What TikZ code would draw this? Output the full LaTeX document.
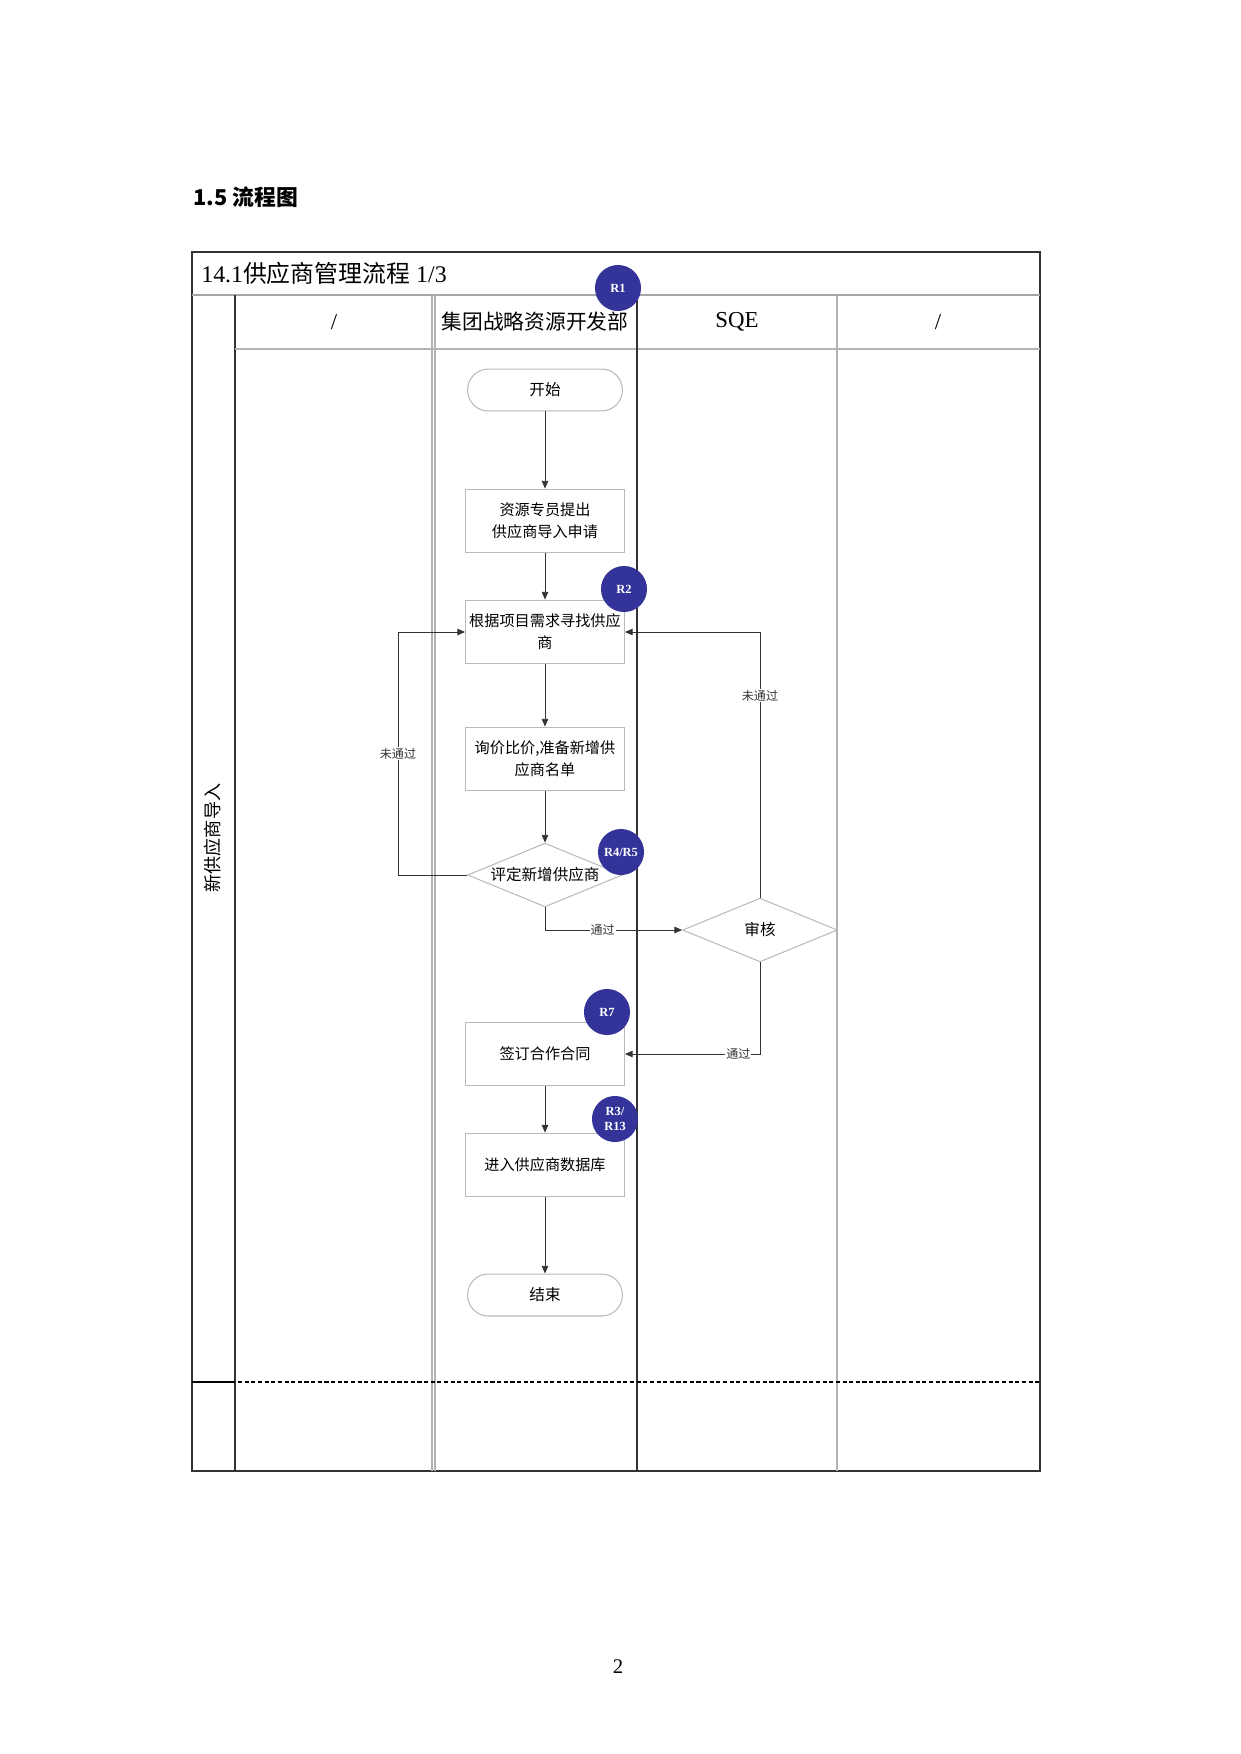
\documentclass[tikz,border=0pt]{standalone}
\usepackage{fontspec}
\setmainfont{Liberation Serif}
\newfontfamily\cjk{Noto Sans CJK SC}
\usetikzlibrary{shapes.geometric}
\usetikzlibrary{arrows.meta}
\definecolor{badgeblue}{HTML}{333399}

\begin{document}
\begin{tikzpicture}[x=0.1693mm, y=-0.1693mm,
  >={Triangle[length=1.3mm, width=1.1mm]},
  lane/.style={gray!60, line width=0.5pt},
  flow/.style={->, gray!40!black, line width=0.4pt},
  proc/.style={draw=gray!55, line width=0.5pt, inner xsep=0.5mm, text width=25.9mm,
    minimum height=10.8mm, align=center, font=\cjk\fontsize{7.3}{10.5}\selectfont},
  term/.style={draw=gray!55, line width=0.5pt, rounded corners=3.5mm, minimum width=26.2mm,
    minimum height=7.1mm, font=\cjk\fontsize{7.5}{10}\selectfont},
  decide/.style={draw=gray!55, line width=0.5pt, shape=diamond, shape aspect=2.4, inner sep=0pt,
    minimum width=26.2mm, minimum height=10.8mm, font=\cjk\fontsize{7.5}{10}\selectfont},
  badge/.style={circle, fill=badgeblue, minimum size=7.8mm, inner sep=0pt, align=center,
    text=white, font=\bfseries\fontsize{6}{7}\selectfont},
  tag/.style={fill=white, inner sep=0.5pt, font=\cjk\fontsize{5.8}{7}\selectfont}]

  \useasboundingbox (0, 0) rectangle (1241, 1754);

  \node[anchor=west, font=\cjk\bfseries\fontsize{10.5}{13}\selectfont] (heading) at (186, 197) {1.5 流程图};
  \node (pageno) at (618, 1667) {\fontsize{10}{12}\selectfont 2};

  % frame and lanes
  \draw[black!80, line width=0.8pt] (192, 252) rectangle (1040, 1471);
  \draw[gray!70, line width=1pt] (192, 295) -- (1040, 295);
  \draw[black!80, line width=0.8pt] (235, 295) -- (235, 1471);
  \draw[lane] (235, 349) -- (1040, 349);
  \foreach \x in {432, 435, 837} {
    \draw[lane] (\x, 295) -- (\x, 1471);
  }
  \draw[gray!40!black, line width=0.8pt] (637, 295) -- (637, 1471);
  \draw[black, line width=0.6pt] (192, 1382) -- (235, 1382);
  \draw[black, line width=1.3pt, dash pattern=on 2pt off 1.2pt] (238, 1382) -- (1040, 1382);

  \node[anchor=west, font=\fontsize{11.5}{14}\selectfont] (chart) at (194, 273) {14.1{\cjk 供应商管理流程} 1/3};
  \node[font=\fontsize{11}{13}\selectfont] (laneA) at (334, 322) {/};
  \node[font=\cjk\fontsize{10}{13}\selectfont] (laneB) at (535, 322) {集团战略资源开发部};
  \node[font=\fontsize{11}{13}\selectfont] (laneC) at (737, 322) {SQE};
  \node[font=\fontsize{11}{13}\selectfont] (laneD) at (938, 322) {/};
  \node[rotate=90, font=\cjk\fontsize{8.7}{10}\selectfont] (phase) at (213, 838) {新供应商导入};

  % steps
  \node[term] (start) at (545, 390) {开始};
  \node[proc] (apply) at (545, 521) {资源专员提出\\供应商导入申请};
  \node[proc] (search) at (545, 632) {根据项目需求寻找供应\\商};
  \node[proc] (quote) at (545, 759) {询价比价,准备新增供\\应商名单};
  \node[decide] (evaluate) at (545, 875) {评定新增供应商};
  \node[decide] (audit) at (760, 930) {审核};
  \node[proc] (sign) at (545, 1054) {签订合作合同};
  \node[proc] (database) at (545, 1165) {进入供应商数据库};
  \node[term] (finish) at (545, 1295) {结束};

  \coordinate (loopL) at (398, 875);

  \draw[flow] (start) -- (apply);
  \draw[flow] (apply) -- (search);
  \draw[flow] (search) -- (quote);
  \draw[flow] (quote) -- (evaluate);
  \draw[flow] (evaluate.west) -- (loopL) |- (search.west) node[tag, pos=0.25] {未通过};
  \draw[flow] (evaluate.south) |- (audit.west) node[tag, pos=0.71] {通过};
  \draw[flow] (audit.north) |- (search.east) node[tag, pos=0.38] {未通过};
  \draw[flow] (audit.south) |- (sign.east) node[tag, pos=0.58] {通过};
  \draw[flow] (sign) -- (database);
  \draw[flow] (database) -- (finish);

  % risk markers
  \node[badge] (r1) at (618, 288) {R1};
  \node[badge] (r2) at (624, 589) {R2};
  \node[badge] (r45) at (621, 852) {R4/R5};
  \node[badge] (r7) at (607, 1012) {R7};
  \node[badge] (r313) at (615, 1119) {R3/\\R13};

\end{tikzpicture}
\end{document}
